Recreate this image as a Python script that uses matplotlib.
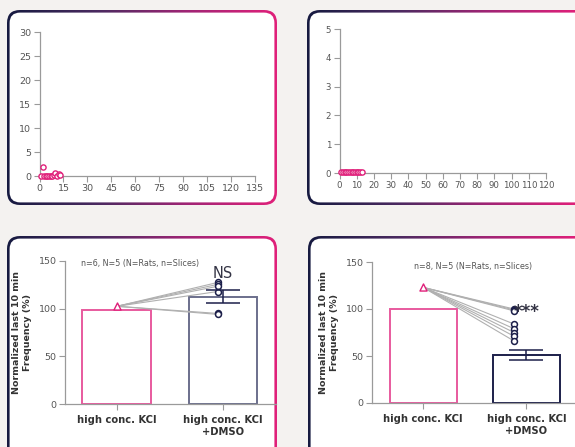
import numpy as np
import matplotlib
matplotlib.use("Agg")
import matplotlib.pyplot as plt
from matplotlib.patches import FancyBboxPatch

# --- data ---
tl_x = [1, 2, 3, 4, 5, 6, 7, 8, 9, 10, 11, 12, 13]
tl_y = [0.1, 1.9, 0.1, 0.1, 0.0, 0.1, 0.1, 0.1, 0.2, 0.6, 0.1, 0.4, 0.3]
tr_x = [1, 2, 3, 4, 5, 6, 7, 8, 9, 10, 11, 12, 13]
tr_y = [0.02, 0.03, 0.02, 0.02, 0.02, 0.02, 0.03, 0.02, 0.02, 0.03, 0.02, 0.03, 0.03]

categories = ["high conc. KCl", "high conc. KCl\n+DMSO"]

bl_bars = [99, 112.5]
bl_sem = 6.8
bl_start = 102.5
bl_points = [127.5, 125.5, 123.5, 118, 95, 94]
bl_note = "n=6, N=5 (N=Rats, n=Slices)"

br_bars = [100, 51]
br_sem = 5.4
br_start = 123
br_points = [100, 99, 98, 84, 79, 75, 71, 66]
br_note = "n=8, N=5 (N=Rats, n=Slices)"

W, H = 575, 447
BG = "#f4f2f0"
NAVY = "#1c1f4a"
PINK = "#e0207a"
BARPINK = "#e85a9e"
GRAY = "#9a9a9a"
TXT = "#555555"

plt.rcParams["font.family"] = ["DejaVu Sans"]

fig = plt.figure(figsize=(W / 100, H / 100), dpi=100)
fig.patch.set_facecolor(BG)

# background axes in pixel coordinates for the rounded gradient frames
bg = fig.add_axes([0, 0, 1, 1], zorder=0)
bg.set_xlim(0, W)
bg.set_ylim(H, 0)
bg.axis("off")

grad = np.linspace(0, 1, 256)[None, :]
cmap = matplotlib.colors.LinearSegmentedColormap.from_list(
    "frame", ["#161a40", "#4a2a60", "#a02575", PINK])

panels = [(7, 10, 277, 205), (307, 10, 600, 205),
          (7, 236, 277, 470), (308, 236, 600, 470)]
for x0, y0, x1, y1 in panels:
    outer = FancyBboxPatch((x0, y0), x1 - x0, y1 - y0,
                           boxstyle="round,pad=0,rounding_size=13",
                           fc="none", ec="none")
    bg.add_patch(outer)
    im = bg.imshow(grad, cmap=cmap, extent=(x0, min(x1, W + 2), y1, y0),
                   aspect="auto", interpolation="bilinear")
    im.set_clip_path(outer)
    t = 2.6
    inner = FancyBboxPatch((x0 + t, y0 + t), x1 - x0 - 2 * t, y1 - y0 - 2 * t,
                           boxstyle="round,pad=0,rounding_size=10.5",
                           fc="white", ec="none")
    bg.add_patch(inner)


def px_axes(left, top, right, bottom, labelsize=6.8):
    ax = fig.add_axes([left / W, 1 - bottom / H, (right - left) / W,
                       (bottom - top) / H], zorder=2)
    ax.patch.set_alpha(0)
    for s in ["top", "right"]:
        ax.spines[s].set_visible(False)
    for s in ["left", "bottom"]:
        ax.spines[s].set_color(GRAY)
        ax.spines[s].set_linewidth(0.9)
    ax.tick_params(colors=GRAY, labelcolor=TXT, labelsize=labelsize, length=4,
                   width=0.8, pad=2)
    return ax


# top left scatter
ax = px_axes(39.5, 32, 255, 176)
ax.scatter(tl_x, tl_y, s=14, facecolors="white", edgecolors=PINK,
           linewidths=1.0, clip_on=False, zorder=3)
ax.set_xlim(0, 135)
ax.set_ylim(0, 30)
ax.set_xticks(np.arange(0, 136, 15))
ax.set_yticks(np.arange(0, 31, 5))

# top right scatter
ax = px_axes(339.5, 29, 546, 173, labelsize=6.2)
ax.scatter(tr_x, tr_y, s=14, facecolors="white", edgecolors=PINK,
           linewidths=1.0, clip_on=False, zorder=3)
ax.set_xlim(0, 120)
ax.set_ylim(0, 5)
ax.set_xticks(np.arange(0, 121, 10))
ax.set_yticks(np.arange(0, 6, 1))


def bar_panel(ax, bars, sem, start, points, pts_x, note, note_xy, note_ha,
              bar2_color, sig, sig_xy, sig_size, sig_weight):
    ax.bar([0], [bars[0]], width=0.65, fc="white", ec=BARPINK, lw=1.4,
           zorder=1)
    ax.bar([1], [bars[1]], width=0.65, fc="white", ec=bar2_color, lw=1.4,
           zorder=1)
    for p in points:
        ax.plot([0, pts_x], [start, p], color="#b0b0b0", lw=0.8, zorder=2)
    ax.errorbar([1], [bars[1]], yerr=[sem], fmt="none", ecolor=NAVY,
                elinewidth=1.1, capsize=12, capthick=1.1, zorder=4)
    ax.scatter([0], [start], marker="^", s=26, facecolors="white",
               edgecolors=PINK, linewidths=1.0, zorder=3)
    ax.scatter([pts_x] * len(points), points, s=18, facecolors="white",
               edgecolors=NAVY, linewidths=1.1, zorder=3)
    ax.set_ylim(0, 150)
    ax.set_yticks([0, 50, 100, 150])
    ax.set_xticks([0, 1])
    ax.set_xticklabels(categories, fontsize=7.2, fontweight="bold",
                       color="#333333", linespacing=1.2)
    ax.tick_params(axis="x", labelcolor="#333333", pad=4)
    ax.set_ylabel("Normalized last 10 min\nFrequency (%)", fontsize=6.8,
                  fontweight="bold", color="#333333", labelpad=5,
                  linespacing=1.25)
    ax.text(note_xy[0], note_xy[1], note, fontsize=5.8, color=TXT,
            ha=note_ha, va="center")
    ax.text(sig_xy[0], sig_xy[1], sig, fontsize=sig_size, color="#333344",
            ha="center", va="center", fontweight=sig_weight, zorder=5)


ax = px_axes(65, 261, 276, 404)
ax.set_xlim(-0.49, 1.5)
bar_panel(ax, bl_bars, bl_sem, bl_start, bl_points, 0.95, bl_note,
          (-0.34, 147), "left", "#6b6f8c", "NS", (1, 137), 10.5, "normal")

ax = px_axes(372, 262, 578, 403)
ax.set_xlim(-0.495, 1.5)
bar_panel(ax, br_bars, br_sem, br_start, br_points, 0.88, br_note,
          (0.48, 145), "center", NAVY, "***", (1.0, 97), 12, "bold")

fig.savefig("out.png", dpi=100, facecolor=fig.get_facecolor())
